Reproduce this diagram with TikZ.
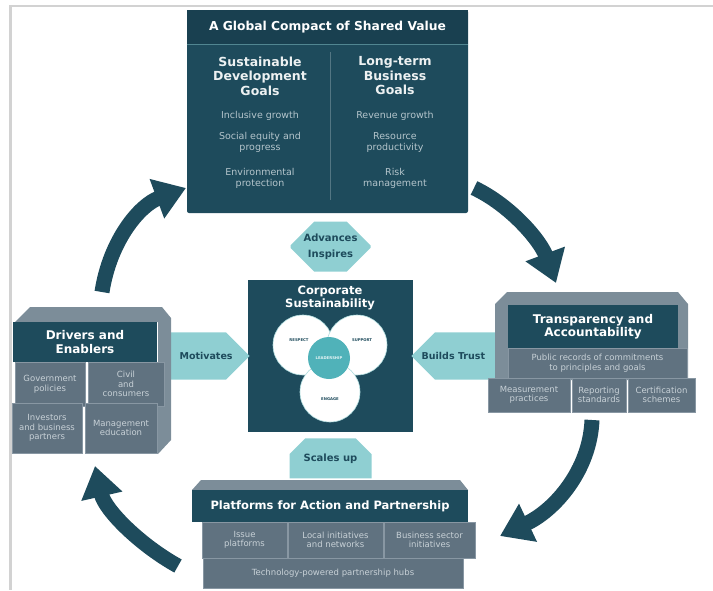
\documentclass[tikz,border=0pt]{standalone}
\usepackage{fontspec}
\setmainfont{DejaVu Sans}
\usetikzlibrary{positioning,fit,arrows.meta,shapes.misc}

\definecolor{deepteal}{RGB}{30,75,92}
\definecolor{bandteal}{RGB}{25,64,80}
\definecolor{paleteal}{RGB}{143,207,210}
\definecolor{midteal}{RGB}{80,178,185}
\definecolor{slate}{RGB}{96,114,128}
\definecolor{slateline}{RGB}{136,151,163}
\definecolor{slateback}{RGB}{124,141,153}
\definecolor{slatetext}{RGB}{200,209,215}
\definecolor{bodytext}{RGB}{180,197,204}

\tikzset{
  panel/.style={fill=deepteal, inner sep=0pt},
  heading/.style={text=white, font=\bfseries\fontsize{12}{13.5}\selectfont, align=center, inner sep=0pt},
  colhead/.style={text=white!92!deepteal, font=\bfseries\fontsize{12.5}{14.5}\selectfont, align=center, inner sep=0pt},
  colitem/.style={text=bodytext, font=\fontsize{9.5}{11}\selectfont, align=center, inner sep=0pt},
  cell/.style={fill=slate, draw=slateline, line width=0.8pt, text=slatetext, font=\fontsize{8.5}{9.5}\selectfont, align=center, inner sep=0pt},
  backface/.style={fill=slateback},
  link/.style={chamfered rectangle, fill=paleteal, text=deepteal, font=\bfseries\fontsize{9.5}{11}\selectfont, align=center, inner sep=0pt},
  bigarrow/.style={draw=deepteal, line width=15pt, -{Triangle[width=40pt,length=31pt]}},
  ring/.style={circle, fill=white, draw=paleteal!70, line width=0.6pt, minimum size=60pt, inner sep=0pt},
  ringlabel/.style={text=deepteal, font=\bfseries\fontsize{3.8}{4}\selectfont, inner sep=0pt},
}

\begin{document}
\begin{tikzpicture}[x=1pt, y=-1pt]
  \useasboundingbox (0,0) rectangle (713,590);
  \draw[gray!35, line width=2pt] (9,6) -- (713,6);
  \draw[gray!35, line width=3pt] (10,6) -- (10,590);

  % shared value
  \node[panel, rounded corners=2pt, minimum width=281, minimum height=203] (compact) at (327.5,111.5) {};
  \node[panel, fill=bandteal, heading, font=\bfseries\fontsize{12.3}{14}\selectfont, minimum width=281, minimum height=34, anchor=north] (compacttitle) at (compact.north) {A Global Compact of Shared Value};
  \draw[paleteal!45!deepteal, line width=1.2pt] (compacttitle.south west) -- (compacttitle.south east);
  \draw[bodytext!35!deepteal, line width=0.8pt] (330,52) -- (330,200);

  \node[colhead] (sdg) at (260,76) {Sustainable\\Development\\Goals};
  \node[colitem] (sdg1) at (260,116) {Inclusive growth};
  \node[colitem] (sdg2) at (260,142.5) {Social equity and\\progress};
  \node[colitem] (sdg3) at (260,178) {Environmental\\protection};
  \node[colhead] (biz) at (395,76) {Long-term\\Business\\Goals};
  \node[colitem] (biz1) at (395,116) {Revenue growth};
  \node[colitem] (biz2) at (395,142.5) {Resource\\productivity};
  \node[colitem] (biz3) at (395,178) {Risk\\management};

  % corporate sustainability
  \node[panel, minimum width=165, minimum height=152] (core) at (330.5,356) {};
  \node[heading, font=\bfseries\fontsize{11.5}{13}\selectfont] (coretitle) at (330,298) {Corporate\\Sustainability};
  \node[ring] (respect) at (303,345) {};
  \node[ring] (support) at (357,345) {};
  \node[ring] (engage) at (330,392) {};
  \node[ringlabel] (respectlbl) at (299,340) {RESPECT};
  \node[ringlabel] (supportlbl) at (362,340) {SUPPORT};
  \node[ringlabel] (engagelbl) at (330,399) {ENGAGE};
  \node[circle, fill=midteal, text=white!85!midteal, font=\bfseries\fontsize{3.8}{4}\selectfont, minimum size=42pt, inner sep=0pt] (leadership) at (329,358) {LEADERSHIP};

  % links
  \node[link, minimum width=80, minimum height=50, chamfered rectangle xsep=17pt, chamfered rectangle ysep=11pt, font=\bfseries\fontsize{10}{16}\selectfont, above=8pt of core] (advances) {Advances\\Inspires};
  \node[link, chamfered rectangle corners={north east,south east}, chamfered rectangle xsep=22pt, chamfered rectangle ysep=20pt, minimum width=87, minimum height=40, left=-2pt of core] (motivates) {Motivates};
  \node[link, chamfered rectangle corners={north west,south west}, chamfered rectangle xsep=14pt, chamfered rectangle ysep=20pt, minimum width=84, minimum height=40, right=-2pt of core] (trust) {Builds Trust};
  \node[link, chamfered rectangle corners={north west,north east}, chamfered rectangle xsep=16pt, chamfered rectangle ysep=11pt, minimum width=82, minimum height=40, font=\bfseries\fontsize{10}{11}\selectfont, below=6pt of core] (scales) {Scales up};

  % drivers block
  \fill[backface] (15,322) -- (30,307) -- (162,307) -- (171,318) -- (171,440) -- (158,454) -- (158,322) -- cycle;
  \node[panel, heading, minimum width=144, minimum height=40] (drivers) at (85,342) {Drivers and\\Enablers};
  \node[cell, minimum width=70, minimum height=44] (govt) at (50,384) {Government\\policies};
  \node[cell, minimum width=76, minimum height=44] (civil) at (126,384) {Civil\\and\\consumers};
  \node[cell, minimum width=70, minimum height=50] (investors) at (47,428) {Investors\\and business\\partners};
  \node[cell, minimum width=72, minimum height=50] (mgmt) at (121,428) {Management\\education};

  % transparency block
  \fill[backface] (495,380) -- (495,304) -- (507,292) -- (678,292) -- (688,304) -- (688,380) -- cycle;
  \node[panel, heading, minimum width=170, minimum height=43] (transparency) at (593,326.5) {Transparency and\\Accountability};
  \node[cell, minimum width=179, minimum height=30] (records) at (597.5,363) {Public records of commitments\\to principles and goals};
  \node[cell, minimum width=82, minimum height=34] (measure) at (529,395) {Measurement\\practices};
  \node[cell, minimum width=54, minimum height=34] (reporting) at (599,395) {Reporting\\standards};
  \node[cell, minimum width=67, minimum height=34] (certify) at (661.5,395) {Certification\\schemes};

  % platforms block
  \fill[backface] (192,490) -- (201,480) -- (460,480) -- (468,490) -- cycle;
  \node[panel, heading, font=\bfseries\fontsize{11.5}{13}\selectfont, minimum width=276, minimum height=32] (platforms) at (330,506) {Platforms for Action and Partnership};
  \node[cell, minimum width=85, minimum height=36] (issue) at (244.5,540) {Issue\\platforms};
  \node[cell, minimum width=95, minimum height=36] (local) at (335.5,540) {Local initiatives\\and networks};
  \node[cell, minimum width=91, minimum height=36] (business) at (429.5,540) {Business sector\\initiatives};
  \node[cell, minimum width=260, minimum height=30] (techhubs) at (333,573) {Technology-powered partnership hubs};

  % cycle arrows
  \coordinate (tlstart) at (102,292);
  \coordinate (tlend) at (186,188);
  \coordinate (trstart) at (474,188);
  \coordinate (trend) at (556,283);
  \coordinate (brstart) at (592,420);
  \coordinate (brend) at (500,536);
  \coordinate (blstart) at (178,566);
  \coordinate (blend) at (95,466);
  \draw[bigarrow] (tlstart) .. controls (110,240) and (140,205) .. (tlend);
  \draw[bigarrow] (trstart) .. controls (510,205) and (540,240) .. (trend);
  \draw[bigarrow] (brstart) .. controls (590,470) and (555,510) .. (brend);
  \draw[bigarrow] (blstart) .. controls (140,545) and (105,510) .. (blend);
\end{tikzpicture}
\end{document}
